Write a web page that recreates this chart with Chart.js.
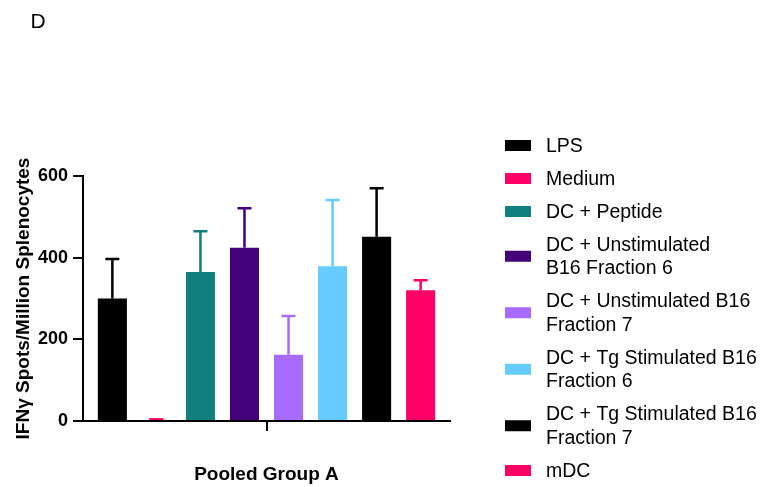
<!DOCTYPE html>
<html>
<head>
<meta charset="utf-8">
<script src="https://cdn.jsdelivr.net/npm/chart.js@4.4.0/dist/chart.umd.min.js"></script>
<style>
  html, body { margin: 0; padding: 0; background: #fff; }
  #wrap { width: 780px; height: 487px; }
</style>
</head>
<body>
<div id="wrap"><canvas id="chart-elispot" width="780" height="487"></canvas></div>
<script>
const groupLabels = ['Pooled Group A'];
const seriesNames = [
  'LPS',
  'Medium',
  'DC + Peptide',
  'DC + Unstimulated B16 Fraction 6',
  'DC + Unstimulated B16 Fraction 7',
  'DC + Tg Stimulated B16 Fraction 6',
  'DC + Tg Stimulated B16 Fraction 7',
  'mDC'
];
// how each name wraps in the side legend
const legendLines = [
  ['LPS'],
  ['Medium'],
  ['DC + Peptide'],
  ['DC + Unstimulated', 'B16 Fraction 6'],
  ['DC + Unstimulated B16', 'Fraction 7'],
  ['DC + Tg Stimulated B16', 'Fraction 6'],
  ['DC + Tg Stimulated B16', 'Fraction 7'],
  ['mDC']
];
const meanSpots = [300, 7, 365, 424, 162, 379, 451, 320];
const sdSpots = [97, 0, 100, 97, 95, 162, 119, 25];
const seriesColors = ['#000000', '#ff0066', '#117f7d', '#420079', '#a86bff', '#66ccff', '#000000', '#ff0066'];
const yTicks = [0, 200, 400, 600];

const FONT = '"Liberation Sans", Arial, Helvetica, sans-serif';

// upward-only SD whiskers, same colour as the bar
const sdWhiskers = {
  id: 'sdWhiskers',
  afterDatasetsDraw(chart) {
    const ctx = chart.ctx;
    const yScale = chart.scales.y;
    ctx.save();
    chart.data.datasets.forEach((ds, i) => {
      const sd = sdSpots[i];
      if (!sd) return;
      const bar = chart.getDatasetMeta(i).data[0];
      const yTop = yScale.getPixelForValue(meanSpots[i] + sd);
      ctx.strokeStyle = seriesColors[i];
      ctx.lineWidth = 2.5;
      ctx.beginPath();
      ctx.moveTo(bar.x, bar.y);
      ctx.lineTo(bar.x, yTop);
      ctx.moveTo(bar.x - 7, yTop);
      ctx.lineTo(bar.x + 7, yTop);
      ctx.stroke();
    });
    ctx.restore();
  }
};

const sideLegend = {
  id: 'sideLegend',
  afterDraw(chart, args, opts) {
    const ctx = chart.ctx;
    ctx.save();
    ctx.fillStyle = '#000';
    ctx.font = '21px ' + FONT;
    ctx.textBaseline = 'alphabetic';
    ctx.fillText('D', 30.5, 27.5);

    ctx.font = '19.5px ' + FONT;
    ctx.textBaseline = 'middle';
    let y = opts.top;
    legendLines.forEach((lines, i) => {
      const boxY = y + (lines.length - 1) * opts.lineHeight / 2;
      ctx.fillStyle = seriesColors[i];
      ctx.fillRect(opts.boxX, boxY - 5, 26, 11);
      ctx.fillStyle = '#000';
      lines.forEach((t, k) => ctx.fillText(t, opts.textX, y + 1.5 + k * opts.lineHeight));
      y += lines.length * opts.lineHeight + opts.gap;
    });
    ctx.restore();
  }
};

const datasets = seriesNames.map((name, i) => ({
  label: name,
  data: [meanSpots[i]],
  backgroundColor: seriesColors[i],
  borderWidth: 0,
  barPercentage: name === 'Medium' ? 0.33 : 0.66,
  categoryPercentage: 0.96
}));

new Chart(document.getElementById('chart-elispot'), {
  type: 'bar',
  data: { labels: groupLabels, datasets },
  plugins: [sdWhiskers, sideLegend],
  options: {
    responsive: false,
    animation: false,
    layout: { padding: { left: 12, top: 176, right: 330, bottom: 1 } },
    scales: {
      x: {
        afterFit: s => { s.height = 65; },
        ticks: { display: false },
        grid: { offset: false, drawOnChartArea: false, color: '#000', lineWidth: 2, tickLength: 10 },
        border: { color: '#000', width: 2 },
        title: { display: true, text: 'Pooled Group A', color: '#000', font: { family: FONT, size: 19, weight: 'bold' }, padding: 0 }
      },
      y: {
        min: 0,
        max: 600,
        afterFit: s => { s.width = 71; },
        afterBuildTicks: s => { s.ticks = yTicks.map(v => ({ value: v })); },
        ticks: { color: '#000', padding: 5, font: { family: FONT, size: 18, weight: 'bold' } },
        grid: { drawOnChartArea: false, color: '#000', lineWidth: 2, tickLength: 10 },
        border: { color: '#000', width: 2 },
        title: { display: true, text: 'IFNγ Spots/Million Splenocytes', color: '#000', font: { family: FONT, size: 19, weight: 'bold' }, padding: 0 }
      }
    },
    plugins: {
      legend: { display: false },
      tooltip: { enabled: false },
      sideLegend: { top: 145, lineHeight: 23.5, gap: 9.5, boxX: 505, textX: 546 }
    }
  }
});
</script>
</body>
</html>
